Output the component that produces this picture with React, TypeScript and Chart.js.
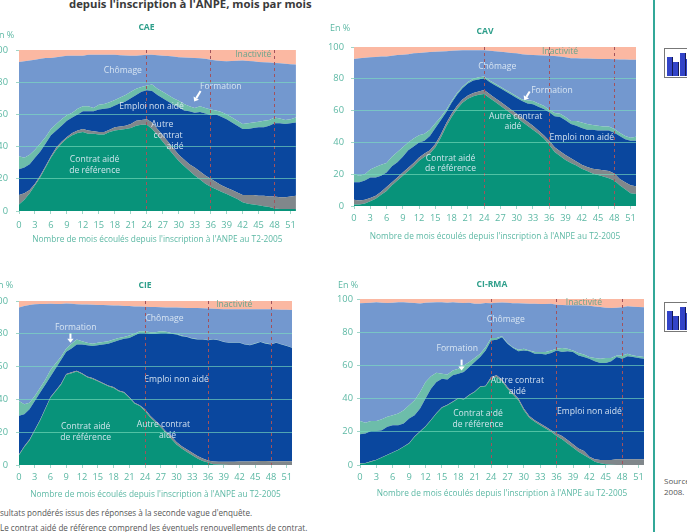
import React, { useEffect, useRef } from "react";
import { Chart, registerables } from "chart.js";

Chart.register(...registerables);

const months = Array.from({ length: 53 }, (_, i) => i);
const xTitleText = "Nombre de mois écoulés depuis l'inscription à l'ANPE au T2-2005";
const FONT = '"Open Sans", "Noto Sans", sans-serif';

const seriesNames = ["Contrat aidé de référence", "Autre contrat aidé", "Emploi non aidé", "Formation", "Chômage", "Inactivité"];
const seriesColors = ["#08937a", "#80878b", "#0a479e", "#6dbdaa", "#7398cf", "#fbb8a2"];

// Cumulative upper boundary of each band, one value per month 0..52
const caeContrat = [4,7,11,16,21,27,33,38,42,45,47,48.5,49,48,48,47.5,47.5,49,50,50.5,51,51.5,53,53.5,53.5,51,47,43,39,35,31,28,25,22,19.5,17,15,13.5,12,10.5,9,7.5,5.5,4.5,4,3.5,3,2.5,1.5,1.2,1.2,1.2,1.2];
const caeAutre = [10,11,13,17,22,28,34,39.5,43,46,48.5,50,51,50,49.5,49,49,50.5,52,52.5,53,54,56,56.5,57,55,51,47,43,39,35,32,29,27,24.5,22,20,18,16,14.5,13,11.5,10,10,10,9.5,9.5,9,9,8.5,8.5,9,9.5];
const caeEmploi = [26,27,29,33,37,42,47,50,53,56,58,60,62,62,62,63,63.5,64,65.5,67,68,70,72,74,75,74.5,72,70,68,66,64.5,62.5,62,61,61.5,60.5,59.5,60,58.5,57,55,53,51,51,51.5,52,52,53,54.5,54.5,54,54.5,55];
const caeFormation = [34,33,35,38,42,46,51,54,57,59.5,61,63.5,65,65,64,66,66.5,67.5,69,70.5,72,74,76,77,78,78.5,76,74,72,70,68.5,66.5,65,64,65,64,63,62.5,61.5,60,58,56,54,54.5,55,55.5,56,56.5,58,57.5,56.5,57,58];
const caeChomage = [92.5,93,93.5,94,94.5,95,95,95.5,96,96.5,96.5,96.5,96.5,97,97,97,97,97,97,96.8,96.6,96.5,96.5,96.8,97,97,96.8,96.5,96.2,96,95.5,95.3,95.2,95,94.8,94.5,94,93.5,93.2,93,93.2,93.4,93.5,93.2,93,92.5,92.4,92.2,92,91.8,91.5,91.2,91];

const cavContrat = [1,1,1.5,3,4.5,7,9.5,13,16,19,22,25,28.5,31,33,37,43,50,56,61,65,67.5,69,70,70.5,68,65.5,63,60.5,58,55.5,53,50.5,48,45.5,42.5,38.5,34,31.5,29,27,25.5,23.5,22,20.5,19.5,18.5,17.5,16,13,10.5,8,7.5];
const cavAutre = [4,3.5,4,5,6.5,9,12,15,18,21,24,27,30.5,33,35,39,45,52,58,63,67,69.5,71,72,73,70.5,68,65.5,63,60.5,58,55.5,53,50.5,47.5,44.5,41,37,34.5,32,30,28,26,24.5,23.5,23,22.5,22,20.5,17,15,13,12.5];
const cavEmploi = [15,15,16,18,18,19,21,25,27.5,31,35,37.5,40,41,44,49,54,59,65,70,74,77,79,79.5,80.5,78,76,74,72,70,68,66,64.5,64,62.5,61,59,56.5,56,54,51.5,50.5,49,48,48,47.5,47.5,47.5,46,44,42,41,41];
const cavFormation = [20,19,20,23,24.5,26,27,31,34,37,40,42.5,44.5,45.5,48,52,56,60.5,66,71,75,78,80,81,81.5,79,77,75,73,71,69,67,66.5,66,64.5,63,60.5,58.5,58,56,53.5,53.5,52.5,51.5,51,50.5,50,50,48.5,46,44,43,43.5];
const cavChomage = [92.5,93,93.2,93.5,93.7,94,94,94.5,95,95.2,95.5,96,96.2,96.5,96.8,97,97.2,97.4,97.6,97.8,98,98,98,98,98,97.7,97.4,97,96.7,96.3,96,95.5,95.2,95,94.8,94.6,94.5,94.3,94,93.5,93,92.9,92.8,92.7,92.6,92.5,92.5,92.4,92.3,92.2,92.1,92,92];

const cieContrat = [6,11,15,21,27,34,41,45,49,55,56,57,55.5,53.5,52.5,51,49.5,48,47,45,44,41,37.5,36,33,29,26,23,19.5,16,12.5,10,8,6,4,2.5,1.5,0.5,0.3,0.2,0,0,0,0,0,0,0,0,0,0,0,0,0];
const cieAutre = [6.5,11.5,15.5,21.5,27.5,34.5,41.5,45.5,49.5,55.5,56.5,57.5,56,54,53,51.5,50,48.5,47.5,45.5,44.5,41.5,38,36.5,34,30,27,24,20.5,17.5,14,11.5,9.5,7.5,5.5,4,2.8,2.2,2,2,2,2,2.1,2.1,2.1,2.3,2.4,2.4,2.3,2.3,2.3,2.3,2.3];
const cieEmploi = [30,31,34,39,44,49,54,59,64,69,71,73.5,73.5,73,72.5,73,73.5,74,75,76,77,77.5,79,80.5,80.5,80,80,80.5,80.5,80,79.5,78.5,78,77,76.5,76.5,76,76.5,76,75,74.5,74.5,74.5,73.5,73,74,75,74,73.5,74.5,73.5,72.5,71.5];
const cieFormation = [39,37,38,42,47,52,58,62,66,71,74,76.5,75.5,74.5,74,74.5,75,75.5,76.5,77.5,78,79,80,81.5,81.5,81,81,81.5,81.2,80.5,80,79,78.2,77.3,76.8,76.7,76.2,76.7,76.2,75.2,74.7,74.7,74.7,73.7,73.2,74.2,75.2,74.2,73.7,74.7,73.7,72.7,71.7];
const cieChomage = [96,97,97.5,98,98.1,98.2,98.3,98.2,98.2,98.5,98.3,98,97.9,97.8,97.7,97.5,97.5,97.4,97.3,97.2,97,96.9,96.7,96.6,96.5,96.4,96.3,96.2,96.1,96.1,96,95.9,95.8,95.8,95.7,95.6,95.5,95.3,95.1,95,95,95,95,95,95,95,95,95,95,94.8,94.7,94.6,94.5];

const rmaContrat = [0.8,1,2,3,4.5,6,7.5,9,11,13,17,20,23,27,31,34.5,36,38,40,39.5,42,44,47,47.5,52,53,50.5,46,42.5,39,33,28.5,26,24,22,20,17.5,15.5,13,10.5,8,6,4,2,1,0.5,0.2,0,0,0,0,0,0];
const rmaAutre = [1,1.2,2.2,3.2,4.7,6.2,7.7,9.2,11.2,13.3,17.3,20.3,23.3,27.3,31.3,34.8,36.3,38.3,40.3,39.8,42.3,44.3,47.3,47.8,53,54,51.5,47,43.5,40,34,29.5,27,25,23,21,19,17.5,15,12.5,10,8.5,5,3.5,3,3,3,3.5,3.5,3.5,3.5,3.5,3.5];
const rmaEmploi = [18.5,19,20.5,20.5,21,23,24,24,25,28,30,34,40,46,50,52,51.5,54,55,56,59,62,65,69,75,75.5,77,73,70.5,68.5,69,68.5,67,67,66.5,67.5,69,68,68.5,68,66,65,64,62.5,61.5,61.5,62.5,65,64,65.5,65,64.5,64];
const rmaFormation = [26.5,25.5,26.5,26.5,27.5,29,30,31,33,36,39,44,50,53.5,55.5,55,54.5,57,58,60,62,64.5,67,71,76.5,76.5,77.5,73.5,71,69.5,70,69,68,68,68,69,70,70.5,70,69,67.5,66.5,65,64.5,64,64.5,64.5,66,66,67,66,65.5,65];
const rmaChomage = [97.5,97.6,97.7,98,97.8,97.6,97.7,98,98,97.8,97.6,97.3,97.7,97.9,98,98,97.7,98,97.8,97.6,97.8,97.2,97.2,97.6,97.5,97.7,97.9,97.7,97.5,97.4,97.3,97.2,97.2,97,97,97.2,96.5,96.4,96.3,96.3,96.2,96.1,96,95.5,95.2,94.8,94.6,94.8,95,95.6,95.4,95.2,95];

const fullScale = months.map(() => 100);

type Label = { t: string; x: number; y: number; c?: string };
type Arrow = { from: [number, number]; to: [number, number] };
type Panel = {
  title: string; left: number; right: number; top: number; bottom: number;
  titleX: number; titleY: number; unitX: number; unitY: number;
  tickGap: number; xTitleGap: number; yGap: number;
  series: number[][]; labels: Label[]; arrow: Arrow;
};

const INACT = "#6ba58d";

const panels: Panel[] = [
  {
    title: "CAE", left: 18.5, right: 295, top: 50, bottom: 211, titleX: 146.5, titleY: 28, unitX: -6, unitY: 35, tickGap: 14, xTitleGap: 28, yGap: 8,
    series: [caeContrat, caeAutre, caeEmploi, caeFormation, caeChomage, fullScale],
    labels: [
      { t: "Chômage", x: 19.5, y: 87.3 }, { t: "Emploi non aidé", x: 24.9, y: 64.7 }, { t: "Formation", x: 37.9, y: 77.2 },
      { t: "Inactivité", x: 44, y: 97, c: INACT }, { t: "Autre", x: 26.9, y: 53.7 }, { t: "contrat", x: 28, y: 46.7 }, { t: "aidé", x: 29.3, y: 40 },
      { t: "Contrat aidé", x: 14.2, y: 31.7 }, { t: "de référence", x: 14.2, y: 25 },
    ],
    arrow: { from: [34.1, 74.5], to: [32.9, 68] },
  },
  {
    title: "CAV", left: 353.5, right: 635.5, top: 46.7, bottom: 206, titleX: 485, titleY: 32, unitX: 330, unitY: 28, tickGap: 12, xTitleGap: 30, yGap: 7,
    series: [cavContrat, cavAutre, cavEmploi, cavFormation, cavChomage, fullScale],
    labels: [
      { t: "Chômage", x: 26.4, y: 88 }, { t: "Formation", x: 36.5, y: 72.5 }, { t: "Inactivité", x: 38, y: 97, c: INACT },
      { t: "Autre contrat", x: 29.8, y: 56.5 }, { t: "aidé", x: 29.3, y: 50 }, { t: "Emploi non aidé", x: 42, y: 43 },
      { t: "Contrat aidé", x: 17.8, y: 30 }, { t: "de référence", x: 17.8, y: 23.5 },
    ],
    arrow: { from: [32.4, 72], to: [31.4, 66.5] },
  },
  {
    title: "CIE", left: 19, right: 292, top: 300.7, bottom: 464.7, titleX: 145, titleY: 285.5, unitX: -7, unitY: 285, tickGap: 12, xTitleGap: 29, yGap: 8,
    series: [cieContrat, cieAutre, cieEmploi, cieFormation, cieChomage, fullScale],
    labels: [
      { t: "Chômage", x: 27.7, y: 89 }, { t: "Formation", x: 10.8, y: 84 }, { t: "Inactivité", x: 41, y: 98, c: INACT },
      { t: "Emploi non aidé", x: 30, y: 52 }, { t: "Autre contrat", x: 27.5, y: 24.5 }, { t: "aidé", x: 28.3, y: 18 },
      { t: "Contrat aidé", x: 12.7, y: 23.5 }, { t: "de référence", x: 12.7, y: 17 },
    ],
    arrow: { from: [9.8, 80.5], to: [9.8, 74.5] },
  },
  {
    title: "CI-RMA", left: 359.5, right: 643.5, top: 299.3, bottom: 465.3, titleX: 492, titleY: 284.5, unitX: 338, unitY: 285, tickGap: 12, xTitleGap: 28, yGap: 4,
    series: [rmaContrat, rmaAutre, rmaEmploi, rmaFormation, rmaChomage, fullScale],
    labels: [
      { t: "Chômage", x: 26.7, y: 87.5 }, { t: "Formation", x: 17.8, y: 70 }, { t: "Inactivité", x: 41, y: 98, c: INACT },
      { t: "Autre contrat", x: 28.8, y: 51 }, { t: "aidé", x: 28.8, y: 44.5 }, { t: "Emploi non aidé", x: 42, y: 32 },
      { t: "Contrat aidé", x: 21.6, y: 31 }, { t: "de référence", x: 21.6, y: 24.5 },
    ],
    arrow: { from: [18.6, 63.5], to: [18.6, 57] },
  },
];

const decorations = (p: Panel) => ({
  id: "decorations",
  afterDatasetsDraw(chart: any) {
    const { ctx, scales } = chart;
    ctx.save();
    ctx.textAlign = "center";
    ctx.textBaseline = "middle";
    ctx.font = `8.6px ${FONT}`;
    for (const l of p.labels) {
      ctx.fillStyle = l.c || "rgba(225,236,245,0.92)";
      ctx.fillText(l.t, scales.x.getPixelForValue(l.x), scales.y.getPixelForValue(l.y));
    }
    const x0 = scales.x.getPixelForValue(p.arrow.from[0]);
    const y0 = scales.y.getPixelForValue(p.arrow.from[1]);
    const x1 = scales.x.getPixelForValue(p.arrow.to[0]);
    const y1 = scales.y.getPixelForValue(p.arrow.to[1]);
    const a = Math.atan2(y1 - y0, x1 - x0);
    const bx = x1 - 4 * Math.cos(a);
    const by = y1 - 4 * Math.sin(a);
    ctx.strokeStyle = "#ffffff";
    ctx.fillStyle = "#ffffff";
    ctx.lineWidth = 2;
    ctx.beginPath();
    ctx.moveTo(x0, y0);
    ctx.lineTo(bx, by);
    ctx.stroke();
    ctx.beginPath();
    ctx.moveTo(x1, y1);
    ctx.lineTo(bx - 3.2 * Math.sin(a), by + 3.2 * Math.cos(a));
    ctx.lineTo(bx + 3.2 * Math.sin(a), by - 3.2 * Math.cos(a));
    ctx.closePath();
    ctx.fill();
    ctx.restore();
  },
  afterDraw(chart: any) {
    const { ctx } = chart;
    const c = chart.canvas.getBoundingClientRect();
    ctx.save();
    ctx.textBaseline = "middle";
    ctx.textAlign = "center";
    ctx.fillStyle = "#2f9f8b";
    ctx.font = `bold 8.6px ${FONT}`;
    ctx.fillText(p.title, p.titleX - c.left, p.titleY - c.top);
    ctx.textAlign = "left";
    ctx.fillStyle = "#5cb8a4";
    ctx.font = `9px ${FONT}`;
    ctx.fillText("En %", p.unitX - c.left, p.unitY - c.top);
    ctx.restore();
  },
});

const PAD_L = 34, PAD_T = 30, PAD_R = 6, PAD_B = 38;

function PanelChart({ p }: { p: Panel }) {
  const ref = useRef<HTMLCanvasElement | null>(null);
  useEffect(() => {
    const chart = new Chart(ref.current as HTMLCanvasElement, {
      type: "line",
      data: {
        datasets: p.series.map((s, i) => ({
          label: seriesNames[i],
          data: s.map((y, k) => ({ x: months[k], y })),
          backgroundColor: seriesColors[i],
          borderWidth: 0,
          pointRadius: 0,
          tension: 0,
          fill: i === 0 ? "origin" : "-1",
        })),
      },
      options: {
        animation: false,
        responsive: false,
        layout: { padding: { top: PAD_T, right: PAD_R, left: 0, bottom: 0 } },
        plugins: { legend: { display: false }, tooltip: { enabled: false } },
        scales: {
          x: {
            type: "linear", min: 0, max: 52,
            afterFit: (s: any) => { s.height = PAD_B; },
            border: { display: false, dash: [3, 3] },
            grid: {
              z: 1, tickLength: 3, lineWidth: 1,
              color: (c: any) => ([24, 36, 48].includes(c.tick?.value) ? "#a2525c" : "rgba(0,0,0,0)"),
              tickColor: "#9fd6c8",
            },
            ticks: {
              stepSize: 3, includeBounds: false, autoSkip: false, maxRotation: 0,
              color: "#5cb8a4", font: { size: 9.3, family: FONT }, padding: p.tickGap - 8,
            },
            title: { display: true, text: xTitleText, color: "#5cb8a4", font: { size: 8.3, family: FONT }, padding: { top: 0, bottom: PAD_B - p.xTitleGap - 6 } },
          },
          y: {
            min: 0, max: 100,
            afterFit: (s: any) => { s.width = PAD_L; },
            border: { display: false },
            grid: {
              z: 1, tickLength: 3, lineWidth: 1,
              color: (c: any) => (c.tick?.value === 0 || c.tick?.value === 100 ? "rgba(0,0,0,0)" : "rgba(125,222,190,0.62)"),
              tickColor: "#9fd6c8",
            },
            ticks: { stepSize: 20, color: "#5cb8a4", font: { size: 9.3, family: FONT }, padding: p.yGap },
          },
        },
      },
      plugins: [decorations(p)],
    } as any);
    return () => chart.destroy();
  }, [p]);
  const w = p.right - p.left + PAD_L + PAD_R;
  const h = p.bottom - p.top + PAD_T + PAD_B;
  return (
    <canvas
      ref={ref}
      width={Math.round(w)}
      height={Math.round(h)}
      style={{ position: "absolute", left: Math.round(p.left - PAD_L), top: Math.round(p.top - PAD_T), width: Math.round(w), height: Math.round(h) }}
    />
  );
}

const iconBars = [
  { l: 2, h: 19 }, { l: 8, h: 14 }, { l: 15, h: 23 }, { l: 21, h: 17 },
];

function Icon({ top }: { top: number }) {
  return (
    <div style={{ position: "absolute", left: 664, top, width: 30, height: 28, border: "1px solid #777", background: "#fff", overflow: "hidden" }}>
      {iconBars.map((b, i) => (
        <div key={i} style={{ position: "absolute", left: b.l, bottom: 1, width: 5, height: b.h, background: "#3344c8", borderRight: "1px solid #141a55" }} />
      ))}
    </div>
  );
}

const textStyle: React.CSSProperties = { position: "absolute", fontFamily: FONT, whiteSpace: "nowrap", lineHeight: 1 };

export default function App() {
  return (
    <div style={{ position: "fixed", left: 0, top: 0, width: 687, height: 532, overflow: "hidden", background: "#fff", filter: "blur(0.35px)" }}>
      <div style={{ ...textStyle, left: 69, top: -2, fontSize: 11.3, fontWeight: 700, color: "#3a3a3a" }}>
        depuis l'inscription à l'ANPE, mois par mois
      </div>
      {panels.map((p) => <PanelChart key={p.title} p={p} />)}
      <div style={{ ...textStyle, left: 0, top: 509, fontSize: 8.1, color: "#555" }}>sultats pondérés issus des réponses à la seconde vague d'enquête.</div>
      <div style={{ ...textStyle, left: 0, top: 524, fontSize: 8.1, color: "#555" }}>Le contrat aidé de référence comprend les éventuels renouvellements de contrat.</div>
      <div style={{ position: "absolute", left: 653, top: 0, width: 2, height: 532, background: "#33a898" }} />
      <Icon top={48} />
      <Icon top={302} />
      <div style={{ ...textStyle, left: 664, top: 477, fontSize: 8, color: "#555" }}>Source</div>
      <div style={{ ...textStyle, left: 664, top: 488, fontSize: 8, color: "#555" }}>2008.</div>
    </div>
  );
}
